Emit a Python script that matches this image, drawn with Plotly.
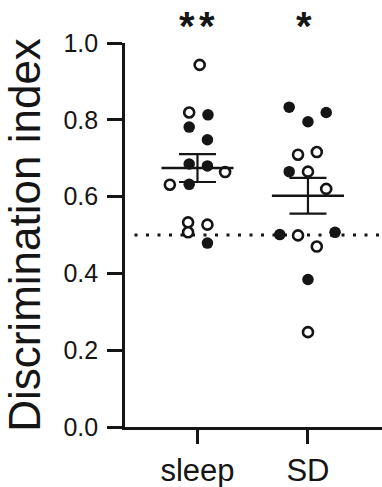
import numpy as np
import plotly.graph_objects as go

# Discrimination index per animal, split by group and by marker style
groups = ["sleep", "SD"]

sleep_open = [0.943, 0.819, 0.664, 0.631, 0.533, 0.507, 0.527]
sleep_filled = [0.813, 0.781, 0.748, 0.685, 0.680, 0.632, 0.479]
sd_open = [0.709, 0.716, 0.665, 0.620, 0.499, 0.470, 0.247]
sd_filled = [0.833, 0.819, 0.795, 0.665, 0.501, 0.507, 0.384]

# horizontal spread of the dots within each group (category units)
sleep_open_jit = [0.02, -0.075, 0.25, -0.25, -0.085, -0.085, 0.09]
sleep_filled_jit = [0.095, -0.075, 0.09, -0.075, 0.09, -0.075, 0.09]
sd_open_jit = [-0.09, 0.08, 0.0, 0.165, -0.09, 0.08, 0.0]
sd_filled_jit = [-0.17, 0.165, 0.0, -0.17, -0.255, 0.245, 0.0]

chance_level = 0.5
n_stars = [2, 1]  # significance vs chance: ** for sleep, * for SD

y_ticks = [0.0, 0.2, 0.4, 0.6, 0.8, 1.0]

FONT = "Liberation Sans, Arial, sans-serif"
INK = "#151515"

fig = go.Figure()

# chance line
fig.add_shape(type="line", xref="x", yref="y", x0=-0.57, x1=1.7,
              y0=chance_level, y1=chance_level,
              line=dict(color=INK, width=3, dash="3px,8.5px"), layer="below")


def dots(center, vals, jit, filled):
    xs = [center + j for j in jit]
    if filled:
        marker = dict(symbol="circle", size=11.5, color=INK,
                      line=dict(width=0))
    else:
        marker = dict(symbol="circle", size=10, color="white",
                      line=dict(width=2.6, color=INK))
    fig.add_trace(go.Scatter(x=xs, y=vals, mode="markers", marker=marker,
                             showlegend=False, hoverinfo="skip"))


dots(0, sleep_open, sleep_open_jit, False)
dots(0, sleep_filled, sleep_filled_jit, True)
dots(1, sd_open, sd_open_jit, False)
dots(1, sd_filled, sd_filled_jit, True)

# mean +/- SEM per group
means, sems = [], []
for vals in (sleep_open + sleep_filled, sd_open + sd_filled):
    a = np.array(vals)
    means.append(a.mean())
    sems.append(a.std(ddof=1) / np.sqrt(len(a)))

# line-ew length is 1.4 x marker size -> ~72 px wide mean bar
fig.add_trace(go.Scatter(
    x=[0, 1], y=means, mode="markers",
    marker=dict(symbol="line-ew", size=51.5, line=dict(width=2.6, color=INK)),
    error_y=dict(type="data", array=sems, visible=True, color=INK,
                 thickness=2.2, width=18.5),
    showlegend=False, hoverinfo="skip"))

# significance stars above each group, one annotation per star
star_gap = 20
group_nudge = [0, -4]
for i, n in enumerate(n_stars):
    for k in range(n):
        fig.add_annotation(x=i, y=1.108, xref="x", yref="paper",
                           xshift=(k - (n - 1) / 2) * star_gap + group_nudge[i],
                           text="<b>*</b>", showarrow=False, yanchor="top",
                           font=dict(family=FONT, size=40, color=INK))

fig.update_layout(
    width=382, height=487,
    margin=dict(l=125, r=0, t=43, b=60),
    paper_bgcolor="white", plot_bgcolor="white",
    font=dict(family=FONT, color=INK),
)

fig.update_xaxes(
    range=[-0.656, 1.67], tickmode="array", tickvals=[0, 1], ticktext=groups,
    showline=True, linewidth=2.6, linecolor=INK, showgrid=False, zeroline=False,
    ticks="outside", ticklen=14, tickwidth=2.6, tickcolor=INK,
    tickfont=dict(family=FONT, size=31, color=INK), ticklabelstandoff=0,
    automargin=False,
)

fig.update_yaxes(
    range=[0, 1], tickmode="array", tickvals=y_ticks,
    ticktext=[f"{v:.1f}" for v in y_ticks],
    showline=True, linewidth=2.6, linecolor=INK, showgrid=False, zeroline=False,
    ticks="outside", ticklen=15, tickwidth=2.6, tickcolor=INK,
    tickfont=dict(family=FONT, size=25, color=INK), ticklabelstandoff=4,
    title=dict(text="Discrimination index", standoff=10,
               font=dict(family=FONT, size=44, color=INK)),
    automargin=False,
)

fig.write_html("out.html")
